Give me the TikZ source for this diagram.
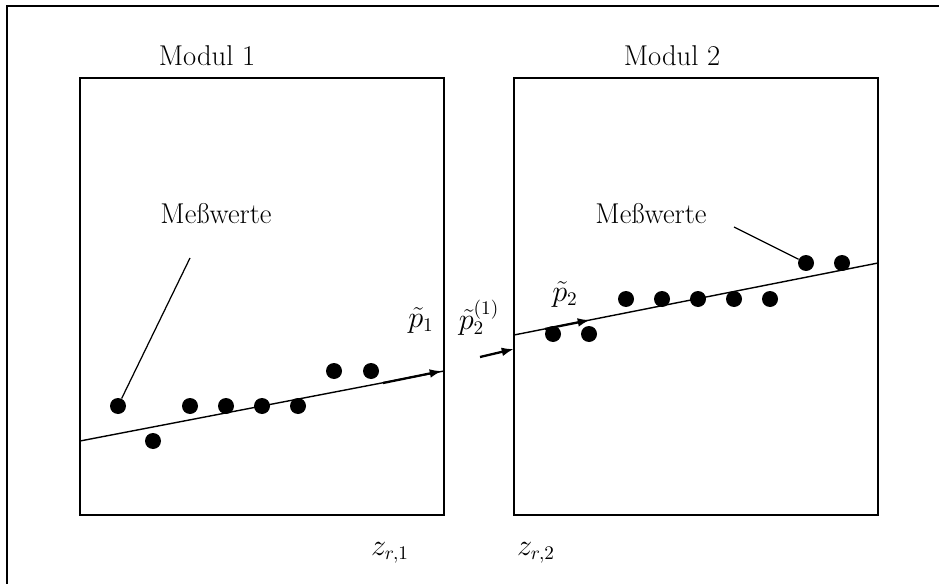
\documentclass[tikz,border=0pt]{standalone}
\usetikzlibrary{arrows.meta}
\begin{document}
\begin{tikzpicture}[x=0.02cm,y=-0.02cm,
    every node/.style={font=\fontsize{16.3}{19}\selectfont},
    messpunkt/.style={circle,fill=black,inner sep=0pt,minimum size=0.32cm},
    marke/.style={inner sep=0.5pt},
    vektor/.style={-{Latex[length=7pt,width=5pt]},line width=1.3pt}]
    \useasboundingbox (0,0) rectangle (939,584);
    \draw[line width=1.2pt](7,584)--(7,6)--(939,6);
    % Module
    \draw[line width=1.2pt](80,78) rectangle (444,515);
    \draw[line width=1.2pt](514,78) rectangle (878,515);
    \node (modul1) at (207,56) {Modul 1};
    \node (modul2) at (672,56) {Modul 2};
    % Ausgleichsgeraden
    \coordinate (g1a) at (80,441);
    \coordinate (g1b) at (444,371);
    \coordinate (g2a) at (514,335);
    \coordinate (g2b) at (878,263);
    \draw[line width=0.8pt](g1a)--(g1b);
    \draw[line width=0.8pt](g2a)--(g2b);
    % Messwerte
    \foreach \x/\y [count=\i] in {118/406,153/441,190/406,226/406,262/406,298/406,334/371,371/371}
        \node[messpunkt] (a\i) at (\x,\y) {};
    \foreach \x/\y [count=\i] in {553/334,589/334,626/299,662/299,698/299,734/299,770/299,806/263,842/263}
        \node[messpunkt] (b\i) at (\x,\y) {};
    \node (mw1) at (216,214) {Meßwerte};
    \node (mw2) at (651,214) {Meßwerte};
    \coordinate (mw1a) at (190,258);
    \coordinate (mw2a) at (734,227);
    \draw[line width=0.7pt](mw1a)--(a1);
    \draw[line width=0.7pt](mw2a)--(b8);
    % Richtungen
    \coordinate (p1a) at (383,383);
    \coordinate (p1b) at (442,371);
    \coordinate (p21a) at (480,357);
    \coordinate (p21b) at (514,349);
    \coordinate (p2a) at (545,329);
    \coordinate (p2b) at (590,320);
    \draw[vektor](p1a)--(p1b);
    \draw[vektor](p21a)--(p21b);
    \draw[vektor](p2a)--(p2b);
    \node[marke] (p1) at (421,320) {$\tilde{p}_1$};
    \node[marke] (p21) at (479,318) {$\tilde{p}_2^{(1)}$};
    \node[marke] (p2) at (565,294) {$\tilde{p}_2$};
    \node (zr1) at (390,553) {$z_{r,1}$};
    \node (zr2) at (536,553) {$z_{r,2}$};
\end{tikzpicture}
\end{document}
